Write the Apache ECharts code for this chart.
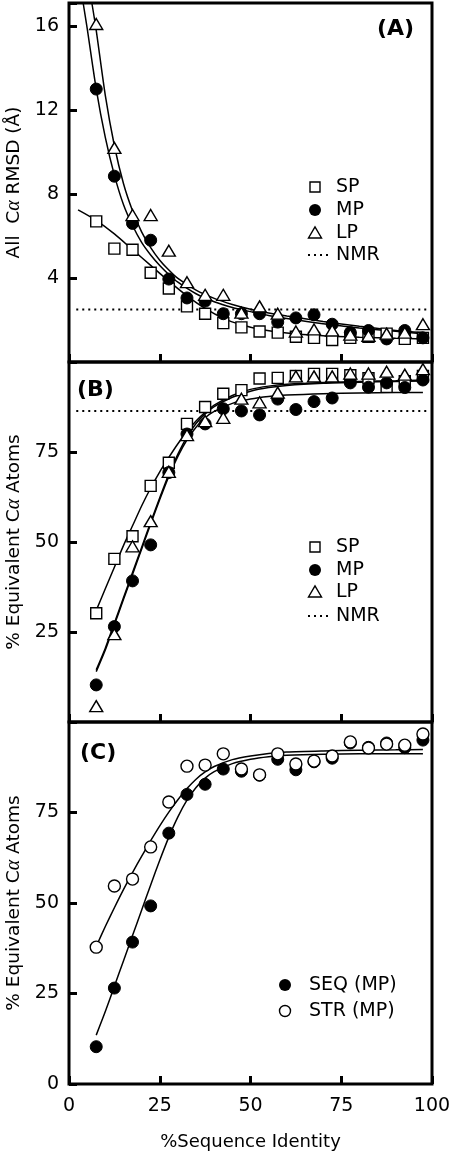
<!DOCTYPE html>
<html><head><meta charset="utf-8">
<script src="https://cdn.jsdelivr.net/npm/echarts@6/dist/echarts.min.js"></script>
<style>html,body{margin:0;padding:0;background:#fff}#c{width:450px;height:1157px}</style>
</head><body><div id="c"></div>
<script>
// ---- data ----
const pctIdentity = [7.5,12.5,17.5,22.5,27.5,32.5,37.5,42.5,47.5,52.5,57.5,62.5,67.5,72.5,77.5,82.5,87.5,92.5,97.5];
// Panel A: all C-alpha RMSD (Å)
const rmsdSP = [6.7,5.4,5.35,4.25,3.5,2.65,2.3,1.85,1.65,1.45,1.4,1.2,1.15,1.05,1.15,1.2,1.35,1.1,1.15];
const rmsdMP = [13.0,8.85,6.6,5.8,3.95,3.05,2.9,2.3,2.3,2.3,1.9,2.1,2.25,1.8,1.4,1.5,1.1,1.5,1.15];
const rmsdLP = [16.1,10.2,7.0,7.0,5.3,3.8,3.2,3.2,2.35,2.65,2.3,1.45,1.55,1.5,1.3,1.25,1.35,1.4,1.8];
const rmsdNMR = 2.5;
// Panel B: % equivalent C-alpha atoms
const eqSP = [30.2,45.3,51.6,65.6,72,82.8,87.5,91.2,92.2,95.4,95.6,96.1,96.7,96.7,96.3,95.5,93.1,94.7,96.1];
const eqMP = [10.3,26.5,39.2,49.2,69.3,80,82.8,87,86.4,85.3,89.7,86.8,89,90,94.2,93,94.2,92.9,95];
const eqLP = [4.4,24.4,48.8,55.8,69.5,79.7,83.6,84.5,89.8,88.8,91.5,96,96,96,96.8,96.8,97.3,96.5,98];
const eqNMR = 86.4;
// Panel C: structure-based alignment (open circles)
const strMP = [37.8,54.7,56.6,65.5,77.9,87.8,88.1,91.2,87,85.4,91.2,88.4,89.2,90.6,94.5,92.8,93.9,93.6,96.7];
// fitted curves
const fitA_SP_x = [2.5,7.5,12.5,17.5,22.5,27.5,32.5,37.5,42.5,47.5,52.5,60,70,80,90,97.5];
const fitA_SP_y = [7.25,6.75,6.1,5.35,4.6,3.85,3.15,2.55,2.08,1.77,1.56,1.38,1.25,1.18,1.13,1.1];
const fitA_MP_x = [3.9,5,7.5,10,12.5,15,17.5,20,22.5,25,27.5,30,35,40,45,50,55,60,70,80,90,97.5];
const fitA_MP_y = [17.1,15.9,13.0,10.7,8.9,7.5,6.5,5.7,5.1,4.6,4.17,3.8,3.25,2.87,2.6,2.4,2.22,2.07,1.82,1.62,1.46,1.35];
const fitA_LP_x = [6.3,7.5,10,12.5,15,17.5,20,22.5,25,27.5,30,35,40,45,50,55,60,70,80,90,97.5];
const fitA_LP_y = [17.1,15.8,12.7,10.3,8.5,7.2,6.2,5.45,4.85,4.38,3.98,3.42,3.03,2.74,2.51,2.33,2.19,1.93,1.7,1.5,1.4];
const fitX = [7.5,10,12.5,15,17.5,20,22.5,25,27.5,30,32.5,35,37.5,40,45,50,55,60,70,80,90,97.5];
const fitB_SP_y = [31,37,43,49,54.5,60,65,69.5,73.5,77.3,80.7,83.6,86,88,90.7,92.4,93.3,93.8,94.3,94.6,94.8,95];
const fitB_MP_y = [14,20,27,34,41,48,55,61.8,68.2,73.8,78.4,81.9,84.5,86.3,88.5,89.7,90.4,90.8,91.2,91.4,91.5,91.5];
const fitB_LP_y = [14.5,20.5,27.5,34.5,41.5,48.5,55.5,62.3,68.8,74.4,79.2,82.9,85.6,87.6,90.2,91.9,92.9,93.5,94.1,94.4,94.6,94.7];
const fitC_STR_y = [38,43.5,48.7,53.7,58.4,62.9,67.2,71.3,75.1,78.5,81.6,84.2,86.2,87.7,89.6,90.6,91.3,91.7,92,92.2,92.3,92.4];
const fitC_SEQ_y = [13.5,20,27,34,41,48,55,61.8,68.2,73.8,78.4,81.9,84.5,86.3,88.5,89.7,90.4,90.8,91.1,91.2,91.2,91.2];
const xTicks = [0,25,50,75,100];
const rmsdTicks = [4,8,12,16];
const eqTicksB = [25,50,75];
const eqTicksC = [0,25,50,75];
const nmrSpan = [2,99];
const legendA = ['SP','MP','LP','NMR'];
const legendC = ['SEQ (MP)','STR (MP)'];

// ---- chart ----
const FONT = '"DejaVu Sans", "Liberation Sans", Arial, sans-serif';
const pair = (xs, ys) => xs.map((x, i) => [x, ys[i]]);
const grids = [
  {left:69, top:3, width:363, height:359},
  {left:69, top:362, width:363, height:360},
  {left:69, top:722, width:363, height:362}
].map(g => Object.assign(g, {show:true, borderColor:'#000', borderWidth:3, backgroundColor:'transparent',
  containLabel:false, outerBoundsMode:'none'}));

const tickStyle = {show:true, inside:true, length:8, lineStyle:{color:'#000', width:3}};
function xAx(i) {
  return {
    gridIndex:i, type:'value', min:xTicks[0], max:xTicks[xTicks.length-1], interval:25,
    axisLine:{show:false}, splitLine:{show:false}, axisTick:tickStyle,
    axisLabel:{show:i===2, fontSize:19, color:'#000', fontFamily:FONT, margin:13, showMaxLabel:true, showMinLabel:true},
    name: i===2 ? '%Sequence Identity' : '', nameLocation:'middle', nameGap:49,
    nameTextStyle:{fontSize:18, color:'#000', fontFamily:FONT}
  };
}
const richA = {a:{fontFamily:'"Liberation Serif", serif', fontStyle:'italic', fontSize:20, color:'#000'}};
function yAx(i, max, interval, shown, name) {
  return {
    gridIndex:i, type:'value', min:0, max, interval,
    axisLine:{show:false}, splitLine:{show:false}, axisTick:tickStyle,
    axisLabel:{fontSize:19, color:'#000', fontFamily:FONT, margin:10,
      formatter: v => shown.indexOf(v) >= 0 ? String(v) : ''},
    name, nameLocation:'middle', nameGap:45, nameRotate:90,
    nameTextStyle:{fontSize:18.5, color:'#000', fontFamily:FONT, rich:richA}
  };
}

const open = {color:'#fff', borderColor:'#000', borderWidth:1.4, opacity:1};
const filled = {color:'#000', borderColor:'#000', borderWidth:1, opacity:1};
function sc(name, i, ys, symbol, size, style) {
  return {name, type:'scatter', xAxisIndex:i, yAxisIndex:i, data:pair(pctIdentity, ys),
    symbol, symbolSize:size, itemStyle:style, z:5, silent:true};
}
function curve(name, i, xs, ys) {
  return {name, type:'line', xAxisIndex:i, yAxisIndex:i, data:pair(xs, ys), smooth:0.25,
    showSymbol:false, symbol:'none', lineStyle:{color:'#000', width:1.5}, z:3, silent:true, clip:true};
}
function nmr(i, v) {
  return {name:'NMR', type:'line', xAxisIndex:i, yAxisIndex:i, data:nmrSpan.map(x => [x, v]),
    symbol:'none', lineStyle:{color:'#000', width:2, type:[2,4]}, z:2, silent:true};
}
const tri = [13,11];
const series = [
  curve('fA_SP',0,fitA_SP_x,fitA_SP_y), curve('fA_MP',0,fitA_MP_x,fitA_MP_y), curve('fA_LP',0,fitA_LP_x,fitA_LP_y),
  nmr(0, rmsdNMR),
  sc('SP',0,rmsdSP,'rect',11,open), sc('MP',0,rmsdMP,'circle',12,filled), sc('LP',0,rmsdLP,'triangle',tri,open),
  curve('fB_SP',1,fitX,fitB_SP_y), curve('fB_MP',1,fitX,fitB_MP_y), curve('fB_LP',1,fitX,fitB_LP_y),
  nmr(1, eqNMR),
  sc('SP',1,eqSP,'rect',11,open), sc('MP',1,eqMP,'circle',12,filled), sc('LP',1,eqLP,'triangle',tri,open),
  curve('fC_STR',2,fitX,fitC_STR_y), curve('fC_SEQ',2,fitX,fitC_SEQ_y),
  sc('SEQ (MP)',2,eqMP,'circle',12,filled), sc('STR (MP)',2,strMP,'circle',12,open)
];

// legend keys drawn as graphics (marker + real text)
function keyMarker(kind, cx, cy) {
  if (kind === 'rect') return {type:'rect', shape:{x:cx-5, y:cy-5, width:10, height:10}, style:{fill:'#fff', stroke:'#000', lineWidth:1.4}};
  if (kind === 'dot') return {type:'circle', shape:{cx, cy, r:6}, style:{fill:'#000'}};
  if (kind === 'ring') return {type:'circle', shape:{cx, cy, r:5.5}, style:{fill:'#fff', stroke:'#000', lineWidth:1.4}};
  if (kind === 'tri') return {type:'polygon', shape:{points:[[cx-6.5,cy+5],[cx+6.5,cy+5],[cx,cy-6]]}, style:{fill:'#fff', stroke:'#000', lineWidth:1.4}};
  return {type:'line', shape:{x1:cx-12, y1:cy, x2:cx+12, y2:cy}, style:{stroke:'#000', lineWidth:2, lineDash:[2,4]}};
}
function keyBlock(labels, kinds, mx, tx, ys) {
  const out = [];
  labels.forEach((t, i) => {
    out.push(Object.assign(keyMarker(kinds[i], kinds[i]==='line' ? mx+5 : mx, ys[i]), {z:10}));
    out.push({type:'text', x:tx, y:ys[i], z:10, style:{text:t, font:'19px '+FONT, fill:'#000', verticalAlign:'middle'}});
  });
  return out;
}
const kindsAB = ['rect','dot','tri','line'];
const option = {
  animation:false, backgroundColor:'#fff',
  grid:grids,
  xAxis:[xAx(0), xAx(1), xAx(2)],
  yAxis:[
    yAx(0, 17.1, 4, rmsdTicks, 'All  C{a|α} RMSD (Å)'),
    yAx(1, 100, 25, eqTicksB, '% Equivalent C{a|α} Atoms'),
    yAx(2, 100, 25, eqTicksC, '% Equivalent C{a|α} Atoms')
  ],
  graphic:[].concat(
    keyBlock(legendA, kindsAB, 315, 336, [187,210,233,255]),
    keyBlock(legendA, kindsAB, 315, 336, [547,570,592,616]),
    keyBlock(legendC, ['dot','ring'], 285, 309, [985,1011]),
    [
      {type:'text', left:377, top:18, style:{text:'(A)', font:'bold 22px '+FONT, fill:'#000'}},
      {type:'text', left:77, top:379, style:{text:'(B)', font:'bold 22px '+FONT, fill:'#000'}},
      {type:'text', left:80, top:742, style:{text:'(C)', font:'bold 22px '+FONT, fill:'#000'}}
    ]),
  series
};
const chart = echarts.init(document.getElementById('c'), null, {renderer:'canvas'});
chart.setOption(option);
</script></body></html>
